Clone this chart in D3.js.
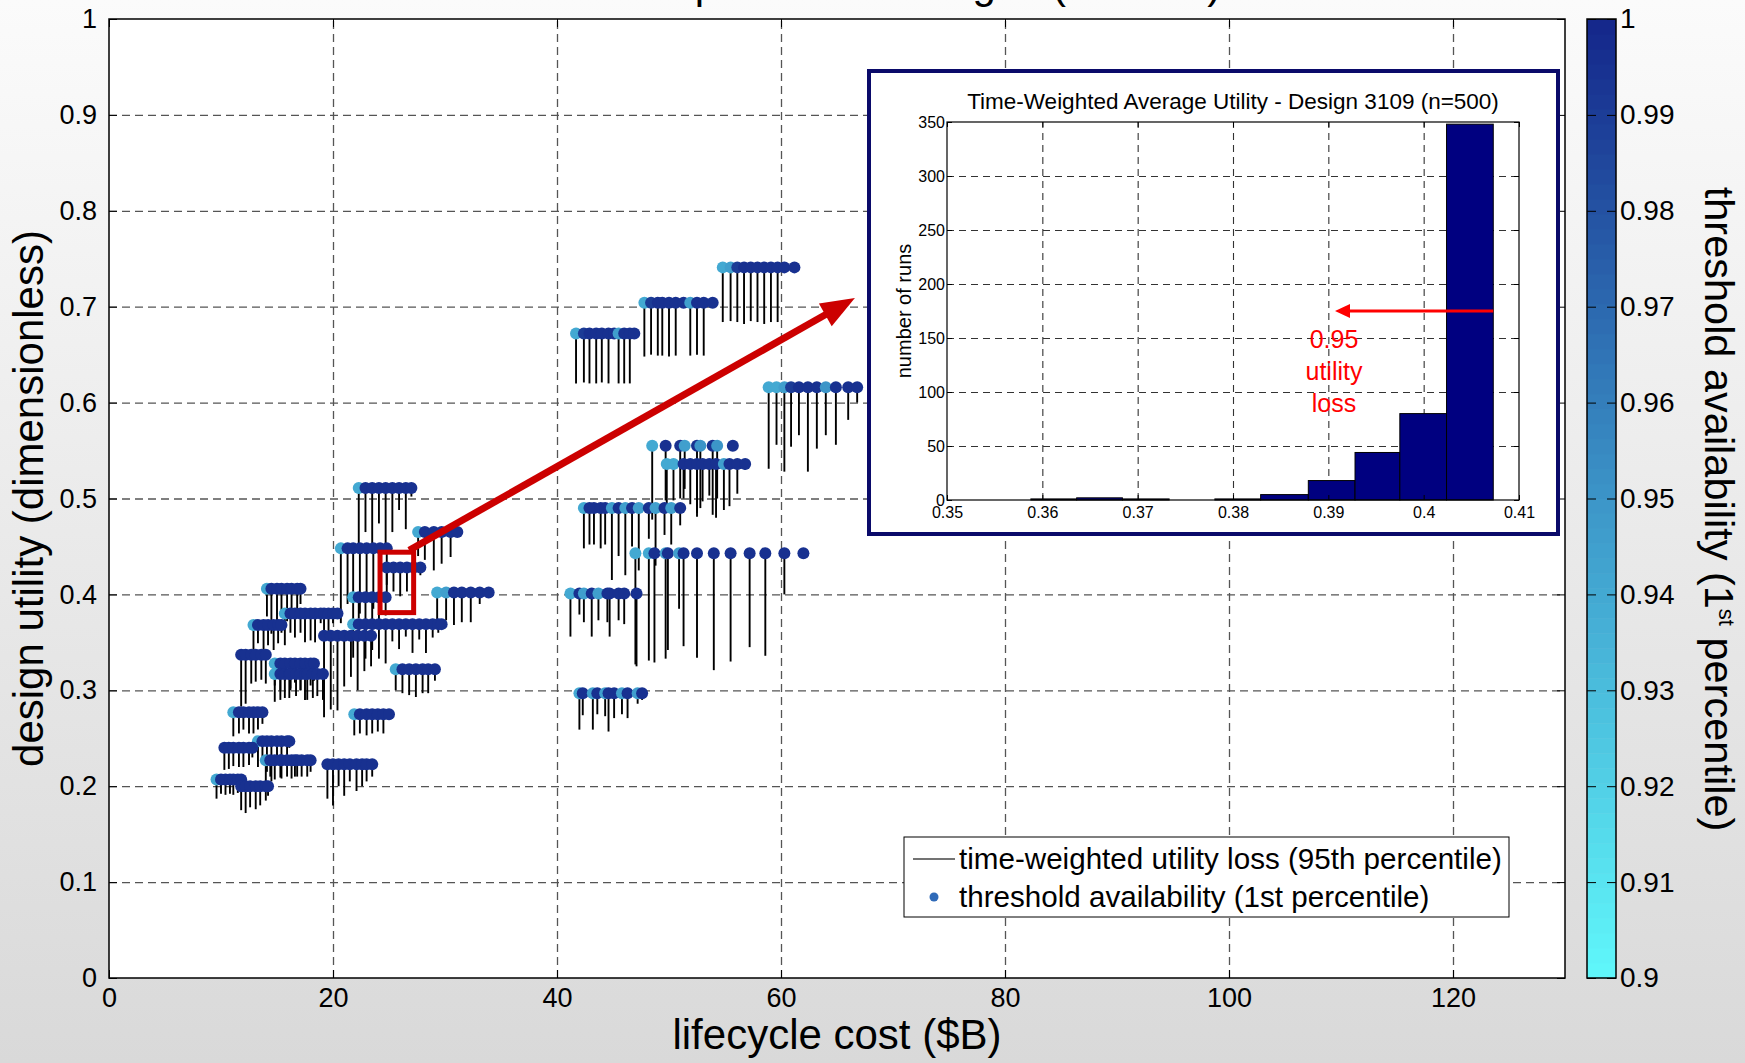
<!DOCTYPE html>
<html>
<head>
<meta charset="utf-8">
<script src="https://cdn.jsdelivr.net/npm/d3@7"></script>
<style>
  body { margin: 0; background: #fff; }
  svg { display: block; }
</style>
</head>
<body>
<svg id="chart"></svg>
<script>
// ---- data ----
// one entry per horizontal row of designs: utility of the row, then per-dot cost,
// lower end of the 95th percentile loss line, and 1st percentile availability
var rowUtility = [0.741, 0.704, 0.672, 0.616, 0.555, 0.536, 0.490, 0.443, 0.401, 0.297,
  0.511, 0.465, 0.448, 0.428, 0.402, 0.397, 0.369, 0.357, 0.322, 0.275, 0.223,
  0.406, 0.380, 0.368, 0.337, 0.328, 0.317, 0.277, 0.247, 0.240, 0.227, 0.207, 0.200];

var rowCost = [
  [54.8, 55.5, 56.1, 56.7, 57.3, 57.9, 58.5, 59.1, 59.7, 60.3, 61.2],
  [47.8, 48.4, 49.0, 49.4, 50.0, 50.6, 51.3, 51.9, 52.5, 53.1, 53.9],
  [41.7, 42.4, 42.9, 43.5, 44.0, 44.6, 45.1, 45.5, 46.0, 46.5, 46.9],
  [58.9, 59.6, 60.3, 60.9, 61.6, 62.4, 63.2, 64.0, 64.9, 66.0, 66.8],
  [48.5, 49.7, 51.0, 51.4, 52.5, 52.8, 53.9, 54.3, 55.7],
  [49.8, 50.4, 51.3, 51.9, 52.5, 53.0, 53.6, 54.2, 54.9, 55.4, 56.1, 56.8],
  [42.4, 42.9, 43.3, 43.9, 44.3, 44.9, 45.5, 46.1, 46.7, 47.3, 48.2, 48.8, 49.6, 50.2, 51.0],
  [47.0, 48.2, 48.7, 49.7, 49.9, 50.9, 51.3, 52.5, 54.0, 55.5, 57.2, 58.6, 60.3, 62.0],
  [41.2, 42.0, 42.4, 43.1, 43.7, 44.5, 44.7, 45.5, 46.0, 47.1],
  [42.0, 42.3, 43.2, 43.6, 44.3, 44.6, 45.1, 45.8, 46.3, 47.2, 47.6],
  [22.3, 22.9, 23.5, 24.1, 24.7, 25.3, 25.9, 26.5, 27.0],
  [27.6, 28.2, 29.0, 29.7, 30.5, 31.1],
  [20.7, 21.3, 21.8, 22.4, 23.0, 23.6, 24.2, 24.8],
  [24.8, 25.4, 26.0, 26.6, 27.2, 27.8],
  [29.3, 30.1, 30.8, 31.5, 32.3, 33.1, 33.9],
  [21.8, 22.3, 22.9, 23.5, 24.1, 24.7],
  [21.8, 22.3, 22.9, 23.5, 24.1, 24.7, 25.3, 25.9, 26.5, 27.1, 27.7, 28.3, 28.9, 29.4, 29.7],
  [19.2, 19.8, 20.4, 21.0, 21.6, 22.2, 22.8, 23.4],
  [25.6, 26.2, 26.8, 27.4, 28.0, 28.5, 29.1],
  [21.9, 22.4, 23.0, 23.5, 24.0, 24.5, 25.0],
  [19.5, 20.0, 20.5, 21.0, 21.5, 22.1, 22.6, 23.0, 23.5],
  [14.1, 14.5, 15.0, 15.4, 15.9, 16.3, 16.8, 17.1],
  [15.7, 16.2, 16.6, 17.1, 17.5, 18.0, 18.4, 18.9, 19.2, 19.6, 20.0, 20.4],
  [12.9, 13.3, 13.8, 14.2, 14.7, 15.1, 15.4],
  [11.8, 12.2, 12.7, 13.1, 13.6, 14.0],
  [14.8, 15.3, 15.7, 16.2, 16.6, 17.1, 17.5, 18.0, 18.3],
  [14.8, 15.3, 15.7, 16.1, 16.2, 16.7, 17.1, 17.5, 17.7, 18.2, 18.6, 19.1],
  [11.1, 11.6, 12.0, 12.5, 12.9, 13.3, 13.7],
  [13.3, 13.7, 14.1, 14.5, 15.0, 15.4, 15.9, 16.1],
  [10.3, 10.7, 11.1, 11.6, 12.0, 12.5, 12.8],
  [14.0, 14.4, 14.8, 15.3, 15.4, 15.9, 16.3, 16.6, 16.8, 17.2, 17.7, 18.0],
  [9.6, 10.0, 10.4, 10.8, 11.1, 11.5, 11.8],
  [11.8, 12.2, 12.6, 13.1, 13.5, 14.0, 14.2]
];

var rowLow = [
  [0.684, 0.685, 0.684, 0.682, 0.685, 0.684, 0.682, 0.684, 0.684, 0.736, 0.739],
  [0.648, 0.650, 0.649, 0.649, 0.648, 0.649, 0.700, 0.649, 0.650, 0.649, 0.702],
  [0.620, 0.621, 0.620, 0.620, 0.621, 0.620, 0.668, 0.620, 0.620, 0.620, 0.669],
  [0.531, 0.556, 0.528, 0.554, 0.566, 0.528, 0.552, 0.566, 0.556, 0.582, 0.600],
  [0.478, 0.498, 0.500, 0.510, 0.481, 0.490, 0.483, 0.500, 0.550],
  [0.488, 0.498, 0.500, 0.494, 0.485, 0.497, 0.503, 0.480, 0.488, 0.492, 0.505, 0.530],
  [0.448, 0.452, 0.452, 0.448, 0.452, 0.415, 0.440, 0.420, 0.450, 0.425, 0.458, 0.430, 0.462, 0.452, 0.472],
  [0.327, 0.331, 0.329, 0.333, 0.342, 0.385, 0.346, 0.334, 0.321, 0.330, 0.345, 0.336, 0.400, 0.443],
  [0.356, 0.379, 0.371, 0.356, 0.373, 0.371, 0.356, 0.373, 0.369, 0.325],
  [0.259, 0.274, 0.259, 0.275, 0.273, 0.257, 0.271, 0.275, 0.271, 0.286, 0.290],
  [0.445, 0.465, 0.453, 0.474, 0.453, 0.465, 0.488, 0.468, 0.502],
  [0.440, 0.436, 0.425, 0.432, 0.439, 0.460],
  [0.370, 0.390, 0.395, 0.380, 0.400, 0.385, 0.410, 0.400],
  [0.410, 0.403, 0.398, 0.403, 0.405, 0.420],
  [0.373, 0.373, 0.368, 0.371, 0.371, 0.390, 0.400],
  [0.370, 0.375, 0.360, 0.372, 0.365, 0.378],
  [0.334, 0.351, 0.333, 0.342, 0.333, 0.328, 0.351, 0.343, 0.356, 0.339, 0.353, 0.339, 0.355, 0.360, 0.365],
  [0.272, 0.280, 0.279, 0.304, 0.314, 0.300, 0.320, 0.325],
  [0.300, 0.297, 0.295, 0.293, 0.297, 0.297, 0.310],
  [0.253, 0.255, 0.253, 0.255, 0.257, 0.255, 0.270],
  [0.187, 0.180, 0.200, 0.190, 0.205, 0.195, 0.200, 0.205, 0.210],
  [0.377, 0.359, 0.365, 0.377, 0.372, 0.375, 0.377, 0.390],
  [0.347, 0.360, 0.355, 0.360, 0.350, 0.352, 0.350, 0.370, 0.352, 0.358, 0.370, 0.375],
  [0.340, 0.349, 0.338, 0.347, 0.342, 0.349, 0.360],
  [0.283, 0.286, 0.307, 0.309, 0.311, 0.307],
  [0.305, 0.300, 0.310, 0.302, 0.308, 0.300, 0.312, 0.305, 0.310],
  [0.288, 0.290, 0.292, 0.292, 0.300, 0.294, 0.300, 0.290, 0.290, 0.292, 0.294, 0.290],
  [0.252, 0.255, 0.259, 0.255, 0.255, 0.259, 0.265],
  [0.220, 0.224, 0.215, 0.205, 0.224, 0.227, 0.230, 0.240],
  [0.217, 0.218, 0.221, 0.220, 0.220, 0.222, 0.230],
  [0.205, 0.210, 0.207, 0.209, 0.208, 0.210, 0.208, 0.210, 0.210, 0.210, 0.210, 0.215],
  [0.187, 0.192, 0.191, 0.192, 0.191, 0.193, 0.200],
  [0.175, 0.172, 0.178, 0.176, 0.180, 0.185, 0.190]
];

var rowAvail = [
  [0.94, 0.945, 0.99, 0.995, 0.995, 0.995, 0.995, 0.995, 0.995, 0.995, 0.995],
  [0.94, 0.99, 0.995, 0.995, 0.995, 0.995, 0.995, 0.945, 0.995, 0.995, 0.995],
  [0.94, 0.99, 0.995, 0.995, 0.995, 0.995, 0.995, 0.945, 0.995, 0.995, 0.995],
  [0.94, 0.94, 0.945, 0.99, 0.995, 0.995, 0.995, 0.95, 0.995, 0.995, 0.995],
  [0.94, 0.995, 0.995, 0.945, 0.995, 0.95, 0.995, 0.95, 0.995],
  [0.94, 0.94, 0.995, 0.995, 0.995, 0.995, 0.995, 0.995, 0.945, 0.995, 0.995, 0.995],
  [0.94, 0.995, 0.995, 0.995, 0.995, 0.945, 0.995, 0.945, 0.995, 0.945, 0.995, 0.945, 0.995, 0.945, 0.995],
  [0.94, 0.94, 0.995, 0.945, 0.995, 0.945, 0.995, 0.995, 0.995, 0.995, 0.995, 0.995, 0.995, 0.995],
  [0.94, 0.995, 0.945, 0.995, 0.945, 0.995, 0.995, 0.995, 0.995, 0.995],
  [0.94, 0.995, 0.945, 0.995, 0.945, 0.995, 0.995, 0.945, 0.995, 0.945, 0.995],
  [0.94, 0.995, 0.995, 0.995, 0.995, 0.995, 0.995, 0.995, 0.995],
  [0.94, 0.995, 0.995, 0.995, 0.995, 0.995],
  [0.94, 0.995, 0.995, 0.995, 0.995, 0.995, 0.995, 0.995],
  [0.995, 0.995, 0.995, 0.995, 0.995, 0.995],
  [0.94, 0.945, 0.995, 0.995, 0.995, 0.995, 0.995],
  [0.94, 0.995, 0.995, 0.995, 0.995, 0.995],
  [0.94, 0.995, 0.995, 0.995, 0.995, 0.995, 0.995, 0.995, 0.995, 0.995, 0.995, 0.995, 0.995, 0.995, 0.995],
  [0.995, 0.995, 0.995, 0.995, 0.995, 0.995, 0.995, 0.995],
  [0.94, 0.995, 0.995, 0.995, 0.995, 0.995, 0.995],
  [0.94, 0.995, 0.995, 0.995, 0.995, 0.995, 0.995],
  [0.995, 0.995, 0.995, 0.995, 0.995, 0.995, 0.995, 0.995, 0.995],
  [0.94, 0.995, 0.995, 0.995, 0.995, 0.995, 0.995, 0.995],
  [0.94, 0.995, 0.995, 0.995, 0.995, 0.995, 0.995, 0.995, 0.995, 0.995, 0.995, 0.995],
  [0.94, 0.995, 0.995, 0.995, 0.995, 0.995, 0.995],
  [0.995, 0.995, 0.995, 0.995, 0.995, 0.995],
  [0.94, 0.995, 0.995, 0.995, 0.995, 0.995, 0.995, 0.995, 0.995],
  [0.94, 0.995, 0.995, 0.995, 0.995, 0.995, 0.995, 0.995, 0.995, 0.995, 0.995, 0.995],
  [0.94, 0.995, 0.995, 0.995, 0.995, 0.995, 0.995],
  [0.94, 0.995, 0.995, 0.995, 0.995, 0.995, 0.995, 0.995],
  [0.995, 0.995, 0.995, 0.995, 0.995, 0.995, 0.995],
  [0.945, 0.995, 0.995, 0.995, 0.995, 0.995, 0.995, 0.995, 0.995, 0.995, 0.995, 0.995],
  [0.94, 0.995, 0.995, 0.995, 0.995, 0.995, 0.995],
  [0.995, 0.995, 0.995, 0.995, 0.995, 0.995, 0.995]
];

var xTicks = [0, 20, 40, 60, 80, 100, 120];
var yTicks = [0, 0.1, 0.2, 0.3, 0.4, 0.5, 0.6, 0.7, 0.8, 0.9, 1];
var yTickLabels = ["0", "0.1", "0.2", "0.3", "0.4", "0.5", "0.6", "0.7", "0.8", "0.9", "1"];
var cbTicks = [0.9, 0.91, 0.92, 0.93, 0.94, 0.95, 0.96, 0.97, 0.98, 0.99, 1];
var cbTickLabels = ["0.9", "0.91", "0.92", "0.93", "0.94", "0.95", "0.96", "0.97", "0.98", "0.99", "1"];

// inset histogram of design 3109
var histEdges = [0.3588, 0.3636, 0.3684, 0.3733, 0.3781, 0.3829, 0.3879, 0.3928, 0.3975, 0.4024, 0.4073];
var histCounts = [1, 2, 1, 0, 1, 5, 18, 44, 80, 348];
var histXTicks = [0.35, 0.36, 0.37, 0.38, 0.39, 0.4, 0.41];
var histXTickLabels = ["0.35", "0.36", "0.37", "0.38", "0.39", "0.4", "0.41"];
var histYTicks = [0, 50, 100, 150, 200, 250, 300, 350];

var FONT = '"Liberation Sans", Arial, Helvetica, sans-serif';
var width = 1745, height = 1063;
var plot = { left: 109, right: 1565, top: 19, bottom: 978 };

var svg = d3.select("#chart")
  .attr("width", width)
  .attr("height", height)
  .attr("font-family", FONT);

// figure background gradient
var grad = svg.append("defs").append("linearGradient")
  .attr("id", "bg").attr("x1", 0).attr("y1", 0).attr("x2", 0).attr("y2", 1);
grad.append("stop").attr("offset", "0%").attr("stop-color", "#fbfbfb");
grad.append("stop").attr("offset", "100%").attr("stop-color", "#d9d9d9");
svg.append("rect").attr("width", width).attr("height", height).attr("fill", "url(#bg)");

var x = d3.scaleLinear().domain([0, 130]).range([plot.left, plot.right]);
var y = d3.scaleLinear().domain([0, 1]).range([plot.bottom, plot.top]);
var color = d3.scaleLinear().domain([0.9, 0.95, 1]).range(["#60f8fb", "#3c95c8", "#14268a"]);

// title sits above the figure, only its descenders show
svg.append("text")
  .attr("x", (plot.left + plot.right) / 2)
  .attr("y", -2)
  .attr("text-anchor", "middle")
  .attr("font-size", 42)
  .text("Simulated Top-Ranked Designs (n=1000)");

svg.append("rect")
  .attr("x", plot.left).attr("y", plot.top)
  .attr("width", plot.right - plot.left).attr("height", plot.bottom - plot.top)
  .attr("fill", "#fff");

// grid
var gridX = svg.append("g")
  .attr("transform", "translate(0," + plot.bottom + ")")
  .call(d3.axisBottom(x).tickValues(xTicks.slice(1)).tickSize(-(plot.bottom - plot.top)).tickFormat(""));
var gridY = svg.append("g")
  .attr("transform", "translate(" + plot.left + ",0)")
  .call(d3.axisLeft(y).tickValues(yTicks.slice(1, -1)).tickSize(-(plot.right - plot.left)).tickFormat(""));
[gridX, gridY].forEach(function(g) {
  g.select(".domain").remove();
  g.selectAll("line").attr("stroke", "#555").attr("stroke-width", 1.3).attr("stroke-dasharray", "8,5");
});

// axes with inward ticks
var xAxis = svg.append("g")
  .attr("transform", "translate(0," + plot.bottom + ")")
  .call(d3.axisBottom(x).tickValues(xTicks).tickSize(-8).tickPadding(10));
var yAxis = svg.append("g")
  .attr("transform", "translate(" + plot.left + ",0)")
  .call(d3.axisLeft(y).tickValues(yTicks).tickSize(-8).tickPadding(12)
    .tickFormat(function(d, i) { return yTickLabels[i]; }));
var xTop = svg.append("g")
  .attr("transform", "translate(0," + plot.top + ")")
  .call(d3.axisTop(x).tickValues(xTicks).tickSize(-8).tickFormat(""));
var yRight = svg.append("g")
  .attr("transform", "translate(" + plot.right + ",0)")
  .call(d3.axisRight(y).tickValues(yTicks).tickSize(-8).tickFormat(""));
[xAxis, yAxis, xTop, yRight].forEach(function(g) {
  g.select(".domain").remove();
  g.attr("font-family", FONT).attr("font-size", 27);
  g.selectAll("line").attr("stroke", "#000");
});

// utility loss lines, then availability dots
var points = [];
rowUtility.forEach(function(u, i) {
  rowCost[i].forEach(function(c, j) {
    points.push({ cost: c, util: u, low: rowLow[i][j], avail: rowAvail[i][j] });
  });
});

svg.append("g")
  .selectAll("line")
  .data(points)
  .enter()
  .append("line")
    .attr("x1", d => x(d.cost))
    .attr("x2", d => x(d.cost))
    .attr("y1", d => y(d.util))
    .attr("y2", d => y(d.low))
    .attr("stroke", "#000")
    .attr("stroke-width", 1.9);

svg.append("g")
  .selectAll("circle")
  .data(points)
  .enter()
  .append("circle")
    .attr("cx", d => x(d.cost))
    .attr("cy", d => y(d.util))
    .attr("r", 6)
    .attr("fill", d => color(d.avail));

svg.append("rect")
  .attr("x", plot.left).attr("y", plot.top)
  .attr("width", plot.right - plot.left).attr("height", plot.bottom - plot.top)
  .attr("fill", "none").attr("stroke", "#000").attr("stroke-width", 1.5);

// axis labels
svg.append("text")
  .attr("x", (plot.left + plot.right) / 2)
  .attr("y", 1049)
  .attr("text-anchor", "middle")
  .attr("font-size", 42)
  .text("lifecycle cost ($B)");

svg.append("text")
  .attr("transform", "translate(43," + (plot.top + plot.bottom) / 2 + ") rotate(-90)")
  .attr("text-anchor", "middle")
  .attr("font-size", 42)
  .text("design utility (dimensionless)");

// legend
var legend = svg.append("g");
legend.append("rect")
  .attr("x", 904).attr("y", 837).attr("width", 605).attr("height", 80)
  .attr("fill", "#fff").attr("stroke", "#000").attr("stroke-width", 1);
legend.append("line")
  .attr("x1", 913).attr("x2", 955).attr("y1", 859).attr("y2", 859)
  .attr("stroke", "#444").attr("stroke-width", 1.5);
legend.append("circle")
  .attr("cx", 934).attr("cy", 897).attr("r", 4.5).attr("fill", "#2f6ab8");
legend.append("text")
  .attr("x", 959).attr("y", 859).attr("dy", "0.35em").attr("font-size", 29.6)
  .text("time-weighted utility loss (95th percentile)");
legend.append("text")
  .attr("x", 959).attr("y", 897).attr("dy", "0.35em").attr("font-size", 29.6)
  .text("threshold availability (1st percentile)");

// colorbar
var cb = { left: 1587, right: 1616 };
var cbScale = d3.scaleLinear().domain([0.9, 1]).range([plot.bottom, plot.top]);
var bands = d3.range(64);
svg.append("g")
  .selectAll("rect")
  .data(bands)
  .enter()
  .append("rect")
    .attr("x", cb.left)
    .attr("width", cb.right - cb.left)
    .attr("y", d => cbScale(0.9 + (d + 1) * 0.1 / 64))
    .attr("height", (plot.bottom - plot.top) / 64 + 0.5)
    .attr("fill", d => color(0.9 + (d + 0.5) * 0.1 / 64));
var cbAxis = svg.append("g")
  .attr("transform", "translate(" + cb.right + ",0)")
  .call(d3.axisRight(cbScale).tickValues(cbTicks).tickSize(-9).tickPadding(4)
    .tickFormat(function(d, i) { return cbTickLabels[i]; }));
var cbLeft = svg.append("g")
  .attr("transform", "translate(" + cb.left + ",0)")
  .call(d3.axisLeft(cbScale).tickValues(cbTicks).tickSize(-9).tickFormat(""));
[cbAxis, cbLeft].forEach(function(g) {
  g.select(".domain").remove();
  g.attr("font-family", FONT).attr("font-size", 28);
  g.selectAll("line").attr("stroke", "#000");
});
svg.append("rect")
  .attr("x", cb.left).attr("y", plot.top)
  .attr("width", cb.right - cb.left).attr("height", plot.bottom - plot.top)
  .attr("fill", "none").attr("stroke", "#000").attr("stroke-width", 1.5);

var cbLabel = svg.append("text")
  .attr("transform", "translate(1705,509) rotate(90)")
  .attr("text-anchor", "middle")
  .attr("font-size", 41.5);
cbLabel.append("tspan").text("threshold availability (1");
cbLabel.append("tspan").attr("dy", -14).attr("font-size", 22).text("st");
cbLabel.append("tspan").attr("dy", 14).text(" percentile)");

// red callout: box around design 3109 and arrow to inset
var red = "#cc0000";
svg.append("rect")
  .attr("x", x(24.2)).attr("y", y(0.444))
  .attr("width", x(27.2) - x(24.2)).attr("height", y(0.381) - y(0.444))
  .attr("fill", "none").attr("stroke", red).attr("stroke-width", 5);

var a0 = [x(26.8), y(0.446)], a1 = [x(66.6), y(0.709)];
var dx = a1[0] - a0[0], dy = a1[1] - a0[1], len = Math.sqrt(dx * dx + dy * dy);
var ux = dx / len, uy = dy / len, headL = 34, headW = 13;
var base = [a1[0] - ux * headL, a1[1] - uy * headL];
svg.append("line")
  .attr("x1", a0[0]).attr("y1", a0[1]).attr("x2", base[0] + ux * 2).attr("y2", base[1] + uy * 2)
  .attr("stroke", red).attr("stroke-width", 7);
svg.append("polygon")
  .attr("points", [a1, [base[0] - uy * headW, base[1] + ux * headW], [base[0] + uy * headW, base[1] - ux * headW]].join(" "))
  .attr("fill", red);

// ---- inset histogram ----
var inset = svg.append("g");
inset.append("rect")
  .attr("x", 869).attr("y", 71).attr("width", 689).attr("height", 463)
  .attr("fill", "#fff").attr("stroke", "#0a0a6a").attr("stroke-width", 4);

var hp = { left: 947, right: 1519, top: 122, bottom: 500 };
var hx = d3.scaleLinear().domain([0.35, 0.41]).range([hp.left, hp.right]);
var hy = d3.scaleLinear().domain([0, 350]).range([hp.bottom, hp.top]);

var hGridX = inset.append("g")
  .attr("transform", "translate(0," + hp.bottom + ")")
  .call(d3.axisBottom(hx).tickValues(histXTicks.slice(1, -1)).tickSize(-(hp.bottom - hp.top)).tickFormat(""));
var hGridY = inset.append("g")
  .attr("transform", "translate(" + hp.left + ",0)")
  .call(d3.axisLeft(hy).tickValues(histYTicks.slice(1, -1)).tickSize(-(hp.right - hp.left)).tickFormat(""));
[hGridX, hGridY].forEach(function(g) {
  g.select(".domain").remove();
  g.selectAll("line").attr("stroke", "#333").attr("stroke-width", 1.1).attr("stroke-dasharray", "7,5");
});

inset.append("g")
  .selectAll("rect")
  .data(histCounts)
  .enter()
  .append("rect")
    .attr("x", (d, i) => hx(histEdges[i]))
    .attr("width", (d, i) => hx(histEdges[i + 1]) - hx(histEdges[i]))
    .attr("y", d => hy(d))
    .attr("height", d => hy(0) - hy(d))
    .attr("fill", "#000080")
    .attr("stroke", "#000")
    .attr("stroke-width", 1);

var hxAxis = inset.append("g")
  .attr("transform", "translate(0," + hp.bottom + ")")
  .call(d3.axisBottom(hx).tickValues(histXTicks).tickSize(-5).tickPadding(7)
    .tickFormat(function(d, i) { return histXTickLabels[i]; }));
var hyAxis = inset.append("g")
  .attr("transform", "translate(" + hp.left + ",0)")
  .call(d3.axisLeft(hy).tickValues(histYTicks).tickSize(-5).tickPadding(2));
var hxTop = inset.append("g")
  .attr("transform", "translate(0," + hp.top + ")")
  .call(d3.axisTop(hx).tickValues(histXTicks).tickSize(-5).tickFormat(""));
var hyRight = inset.append("g")
  .attr("transform", "translate(" + hp.right + ",0)")
  .call(d3.axisRight(hy).tickValues(histYTicks).tickSize(-5).tickFormat(""));
[hxAxis, hyAxis, hxTop, hyRight].forEach(function(g) {
  g.select(".domain").remove();
  g.attr("font-family", FONT).attr("font-size", 16);
  g.selectAll("line").attr("stroke", "#000");
});
inset.append("rect")
  .attr("x", hp.left).attr("y", hp.top)
  .attr("width", hp.right - hp.left).attr("height", hp.bottom - hp.top)
  .attr("fill", "none").attr("stroke", "#000").attr("stroke-width", 1.2);

inset.append("text")
  .attr("x", (hp.left + hp.right) / 2).attr("y", 109)
  .attr("text-anchor", "middle").attr("font-size", 22.5)
  .text("Time-Weighted Average Utility - Design 3109 (n=500)");
inset.append("text")
  .attr("transform", "translate(911," + (hp.top + hp.bottom) / 2 + ") rotate(-90)")
  .attr("text-anchor", "middle").attr("font-size", 20)
  .text("number of runs");

// 0.95 utility loss marker
var lossY = hy(175), lossFrom = hx(0.4073), lossTo = hx(0.3907);
inset.append("line")
  .attr("x1", lossFrom).attr("x2", lossTo + 12).attr("y1", lossY).attr("y2", lossY)
  .attr("stroke", "#ff0000").attr("stroke-width", 3);
inset.append("polygon")
  .attr("points", [[lossTo, lossY], [lossTo + 15, lossY - 7], [lossTo + 15, lossY + 7]].join(" "))
  .attr("fill", "#ff0000");
["0.95", "utility", "loss"].forEach(function(t, i) {
  inset.append("text")
    .attr("x", lossTo - 1).attr("y", lossY + 37 + i * 32)
    .attr("text-anchor", "middle").attr("font-size", 25).attr("fill", "#ff0000")
    .text(t);
});
</script>
</body>
</html>
